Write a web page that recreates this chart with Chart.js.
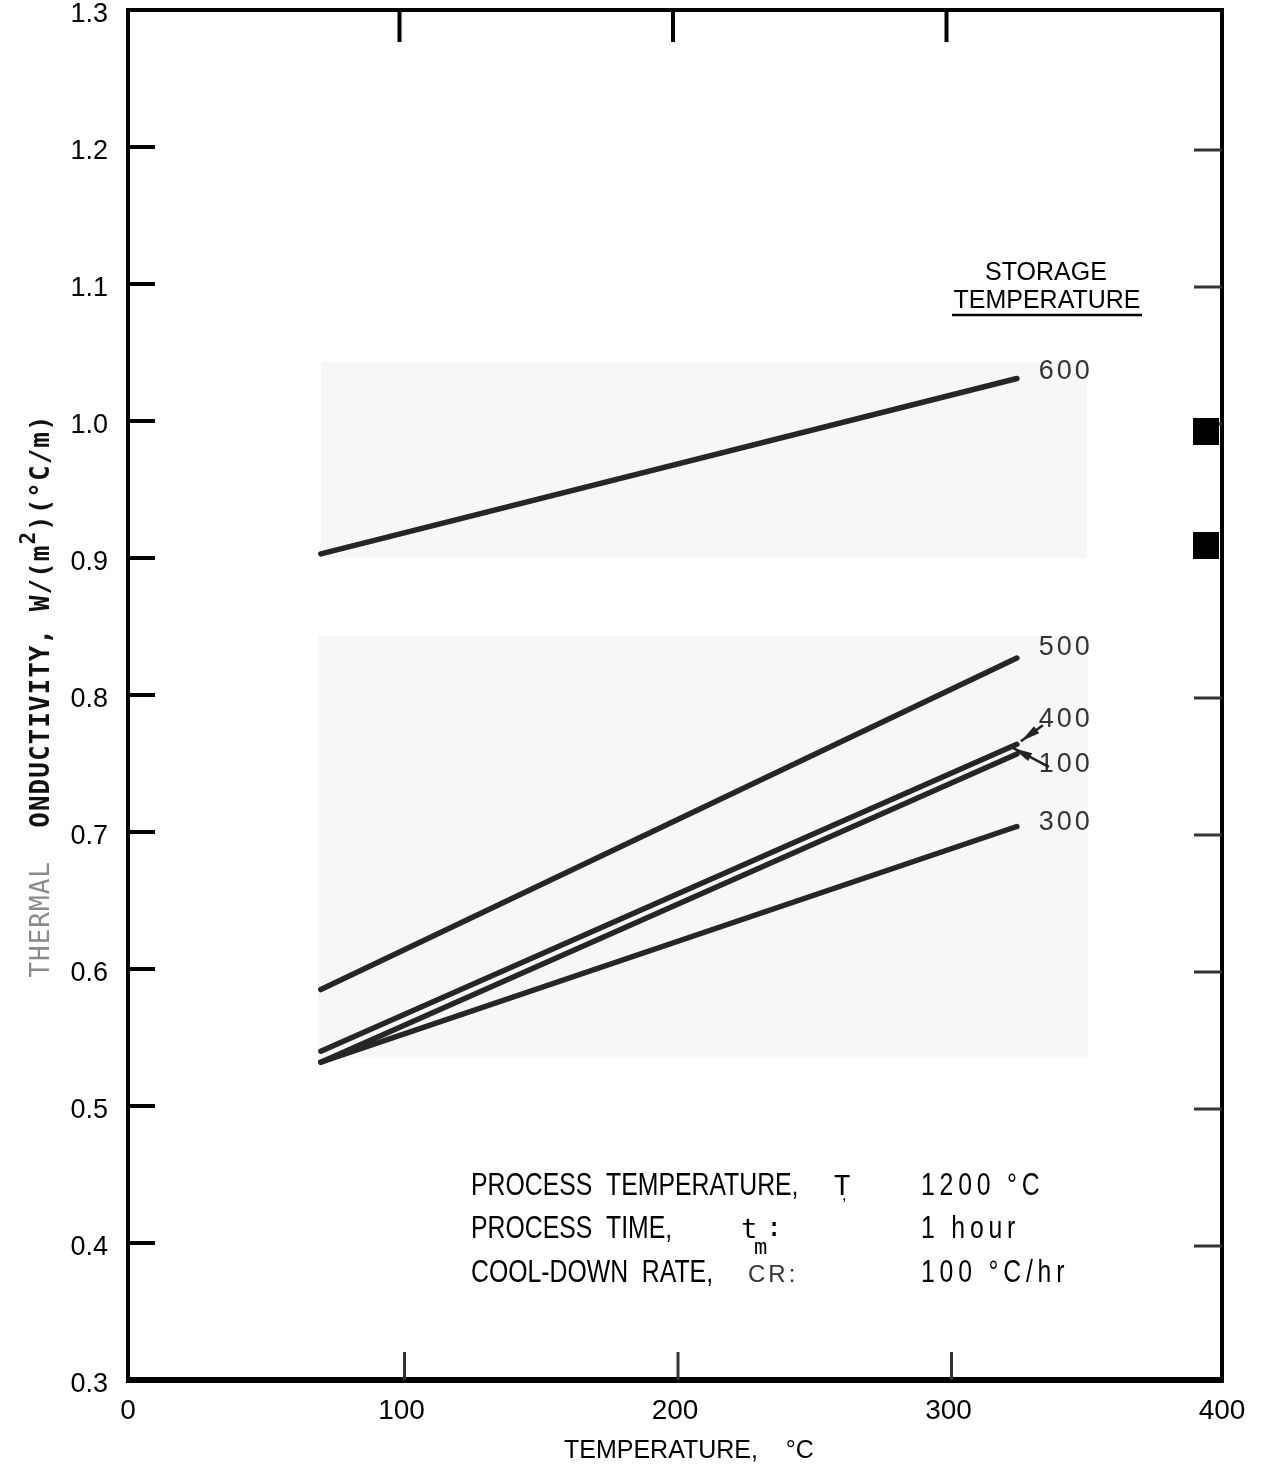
<!DOCTYPE html>
<html>
<head>
<meta charset="utf-8">
<script src="https://cdn.jsdelivr.net/npm/chart.js@4.4.0/dist/chart.umd.min.js"></script>
<style>
  html, body { margin: 0; padding: 0; background: #fff; }
</style>
</head>
<body>
<canvas id="chart" width="1265" height="1471"></canvas>
<script>
// service temperature, °C (both ends of each line)
const temps = [70.5, 325];
// storage temperature of each curve, °C
const storageLabels = ['600', '500', '400', '100', '300'];
// thermal conductivity, W/(m²)(°C/m)
const k600 = [0.903, 1.031];
const k500 = [0.585, 0.827];
const k400 = [0.540, 0.764];
const k100 = [0.532, 0.757];
const k300 = [0.532, 0.704];
const xTicks = [0, 100, 200, 300, 400];
const yTicks = [0.3, 0.4, 0.5, 0.6, 0.7, 0.8, 0.9, 1.0, 1.1, 1.2, 1.3];

const series = [k600, k500, k400, k100, k300];
const FONT = '"Liberation Sans", Arial, sans-serif';

function pts(ys) {
  return temps.map((t, i) => ({ x: t, y: ys[i] }));
}

// all the drawing that chart.js has no option for
const decor = {
  id: 'decor',
  beforeDatasetsDraw(chart) {
    const { ctx, scales: { x, y } } = chart;
    ctx.save();
    ctx.fillStyle = '#f7f7f7';
    ctx.fillRect(x.getPixelForValue(70.6), y.getPixelForValue(1.043),
      x.getPixelForValue(350.6) - x.getPixelForValue(70.6), y.getPixelForValue(0.9) - y.getPixelForValue(1.043));
    ctx.fillRect(x.getPixelForValue(69.5), y.getPixelForValue(0.843),
      x.getPixelForValue(351) - x.getPixelForValue(69.5), y.getPixelForValue(0.535) - y.getPixelForValue(0.843));
    ctx.restore();
  },
  afterDatasetsDraw(chart) {
    const { ctx, chartArea: a, scales: { x, y } } = chart;
    ctx.save();

    // frame
    ctx.strokeStyle = '#000';
    ctx.lineWidth = 4;
    ctx.strokeRect(a.left, a.top, a.right - a.left, a.bottom - a.top);
    ctx.lineWidth = 6;
    ctx.beginPath();
    ctx.moveTo(a.left - 2, a.bottom);
    ctx.lineTo(a.right + 2, a.bottom);
    ctx.stroke();

    // inward tick marks
    ctx.lineWidth = 4;
    ctx.beginPath();
    yTicks.slice(1, -1).forEach(v => {
      const py = y.getPixelForValue(v);
      ctx.moveTo(a.left, py);
      ctx.lineTo(a.left + 27, py);
    });
    xTicks.slice(1, -1).forEach(v => {
      const px = x.getPixelForValue(v) - 2;
      ctx.moveTo(px, a.top);
      ctx.lineTo(px, a.top + 32);
    });
    ctx.stroke();
    ctx.lineWidth = 3;
    ctx.strokeStyle = '#333';
    ctx.beginPath();
    yTicks.slice(1, -1).filter(v => v !== 0.9).forEach(v => {
      const py = y.getPixelForValue(v) + 3;
      ctx.moveTo(a.right - 28, py);
      ctx.lineTo(a.right, py);
    });
    xTicks.slice(1, -1).forEach(v => {
      const px = x.getPixelForValue(v) + 3;
      ctx.moveTo(px, a.bottom - 28);
      ctx.lineTo(px, a.bottom);
    });
    ctx.stroke();
    ctx.fillStyle = '#000';
    [0.9927, 0.9095].forEach(v => {
      ctx.fillRect(a.right - 29, y.getPixelForValue(v) - 13, 26, 27);
    });

    // curve labels
    ctx.fillStyle = '#333';
    ctx.font = '27px ' + FONT;
    ctx.letterSpacing = '3px';
    ctx.textBaseline = 'middle';
    ctx.textAlign = 'left';
    const labelY = [1.0358, 0.8343, 0.7818, 0.7496, 0.7066];
    storageLabels.forEach((s, i) => {
      ctx.fillText(s, x.getPixelForValue(333), y.getPixelForValue(labelY[i]));
    });

    // arrows from labels to the crowded line ends
    function arrow(x0, y0, x1, y1) {
      const ang = Math.atan2(y1 - y0, x1 - x0);
      ctx.strokeStyle = '#222';
      ctx.lineWidth = 2.5;
      ctx.beginPath();
      ctx.moveTo(x0, y0);
      ctx.lineTo(x1, y1);
      ctx.stroke();
      ctx.fillStyle = '#222';
      ctx.beginPath();
      ctx.moveTo(x1, y1);
      ctx.lineTo(x1 - 20 * Math.cos(ang - 0.22), y1 - 20 * Math.sin(ang - 0.22));
      ctx.lineTo(x1 - 20 * Math.cos(ang + 0.22), y1 - 20 * Math.sin(ang + 0.22));
      ctx.closePath();
      ctx.fill();
    }
    const ex = x.getPixelForValue(temps[1]);
    arrow(ex + 26, y.getPixelForValue(0.778), ex + 4, y.getPixelForValue(k400[1]) - 3);
    arrow(ex + 32, y.getPixelForValue(0.7475), ex - 4, y.getPixelForValue(k100[1]) - 6);

    // legend heading
    ctx.fillStyle = '#000';
    ctx.letterSpacing = '0px';
    ctx.textAlign = 'center';
    ctx.font = '25px ' + FONT;
    ctx.fillText('STORAGE', 1046, 273);
    ctx.fillText('TEMPERATURE', 1047, 301);
    ctx.lineWidth = 2.5;
    ctx.strokeStyle = '#000';
    ctx.beginPath();
    ctx.moveTo(952, 315);
    ctx.lineTo(1142, 315);
    ctx.stroke();

    // process conditions
    ctx.textAlign = 'left';
    function cond(txt, px, py, spacing) {
      ctx.save();
      ctx.translate(px, py);
      ctx.scale(0.8, 1);
      ctx.letterSpacing = (spacing || 0) + 'px';
      ctx.fillText(txt, 0, 0);
      ctx.restore();
    }
    ctx.font = '31px ' + FONT;
    ctx.textBaseline = 'alphabetic';
    ctx.fillStyle = '#000';
    cond('PROCESS  TEMPERATURE,', 471, 1195);
    cond('PROCESS  TIME,', 471, 1238);
    cond('COOL-DOWN  RATE,', 471, 1282);
    cond('1200 °C', 921, 1195, 6);
    cond('1 hour', 921, 1238, 6);
    cond('100 °C/hr', 921, 1282, 6);
    ctx.font = '27px "DejaVu Sans Mono", monospace';
    ctx.fillText('T', 834, 1195);
    ctx.fillText('t', 741, 1238);
    ctx.font = '22px "DejaVu Sans Mono", monospace';
    ctx.fillText('m', 754, 1254);
    ctx.font = '27px "DejaVu Sans Mono", monospace';
    ctx.fillText(':', 766, 1236);
    ctx.font = '16px ' + FONT;
    ctx.fillText(',', 842, 1200);
    ctx.fillStyle = '#333';
    ctx.font = '24px ' + FONT;
    ctx.letterSpacing = '3px';
    ctx.fillText('CR:', 748, 1282);

    // y axis title, grey first word as in the scan
    ctx.save();
    ctx.translate(42, 696);
    ctx.rotate(-Math.PI / 2);
    ctx.textBaseline = 'middle';
    ctx.textAlign = 'left';
    ctx.letterSpacing = '1px';
    const thin = '26px "DejaVu Sans Mono", monospace';
    const big = 'bold 26px "DejaVu Sans Mono", monospace';
    const sup = 'bold 21px "DejaVu Sans Mono", monospace';
    const parts = [
      ['THERMAL  ', thin, '#8a8a8a', 0],
      ['ONDUCTIVITY, W/(m', big, '#111', 0],
      ['2', sup, '#111', -12],
      [')(°C/m)', big, '#111', 0]
    ];
    let total = 0;
    parts.forEach(p => { ctx.font = p[1]; total += ctx.measureText(p[0]).width; });
    let cx = -total / 2;
    parts.forEach(p => {
      ctx.font = p[1];
      ctx.fillStyle = p[2];
      ctx.fillText(p[0], cx, p[3]);
      cx += ctx.measureText(p[0]).width;
    });
    ctx.restore();

    ctx.restore();
  }
};

new Chart(document.getElementById('chart'), {
  type: 'line',
  data: {
    datasets: series.map((ys, i) => ({
      label: storageLabels[i],
      data: pts(ys),
      borderColor: '#262626',
      borderWidth: 5.5,
      borderCapStyle: 'round',
      pointRadius: 0,
      tension: 0
    }))
  },
  options: {
    responsive: false,
    animation: false,
    layout: { padding: { left: 0, right: 43, top: 10, bottom: 0 } },
    plugins: {
      legend: { display: false },
      tooltip: { enabled: false }
    },
    scales: {
      x: {
        type: 'linear',
        min: 0,
        max: 400,
        afterBuildTicks: s => { s.ticks = xTicks.map(v => ({ value: v })); },
        afterFit: s => { s.height = 91; s.paddingLeft = 0; s.paddingRight = 0; },
        grid: { display: false, drawTicks: false },
        border: { display: false },
        ticks: { padding: 14, color: '#000', font: { family: FONT, size: 28 } },
        title: {
          display: true,
          text: '    TEMPERATURE,    °C',
          color: '#000',
          padding: { top: 0, bottom: 5 },
          font: { family: FONT, size: 25 }
        }
      },
      y: {
        type: 'linear',
        min: 0.3,
        max: 1.3,
        afterBuildTicks: s => { s.ticks = yTicks.map(v => ({ value: v })); },
        afterFit: s => { s.width = 128; s.paddingTop = 0; s.paddingBottom = 0; },
        grid: { display: false, drawTicks: false },
        border: { display: false },
        ticks: {
          padding: 20,
          labelOffset: 5,
          color: '#000',
          font: { family: FONT, size: 27 },
          callback: v => v.toFixed(1)
        }
      }
    }
  },
  plugins: [decor]
});
</script>
</body>
</html>
